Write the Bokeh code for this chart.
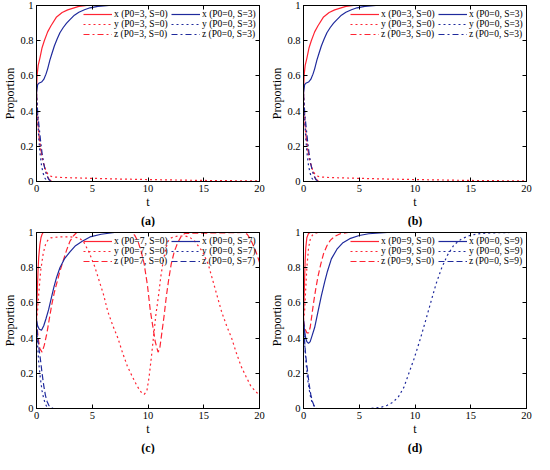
from bokeh.plotting import figure
from bokeh.layouts import gridplot
from bokeh.models import (Legend, LegendItem, LinearAxis, FixedTicker, Title, Range1d,
                          CustomJSTickFormatter)
from bokeh.embed import file_html
from bokeh.resources import INLINE

# ---------------- data ----------------
x_ticks = [0, 5, 10, 15, 20]
y_ticks = [0, 0.2, 0.4, 0.6, 0.8, 1]
y_tick_labels = ["0", "0.2", "0.4", "0.6", "0.8", "1"]

# panels (a) and (b): P0=3,S=0 (red) vs P0=0,S=3 (blue)
a_xr_t = [0, 0.05, 0.15, 0.3, 0.5, 0.7, 1.0, 1.3, 1.8, 2.3, 2.8, 3.3, 3.8, 4.5, 6, 20]
a_xr = [0.5, 0.6, 0.66, 0.7, 0.76, 0.8, 0.85, 0.885, 0.935, 0.96, 0.975, 0.985, 0.995, 1.0, 1.0, 1.0]
a_yr_t = [0, 0.1, 0.25, 0.4, 0.55, 0.7, 0.85, 1.0, 1.2, 1.5, 2.5, 5, 7.5, 10, 15, 20]
a_yr = [0.5, 0.38, 0.25, 0.17, 0.12, 0.085, 0.06, 0.045, 0.032, 0.026, 0.022, 0.018, 0.014, 0.011, 0.006, 0.003]
a_zr_t = [0, 0.1, 0.2, 0.35, 0.5, 0.65, 0.8, 0.95, 1.1, 1.3, 1.6, 20]
a_zr = [0.5, 0.36, 0.27, 0.2, 0.14, 0.1, 0.065, 0.035, 0.015, 0.005, 0, 0]
a_xb_t = [0, 0.1, 0.25, 0.45, 0.65, 0.85, 1.0, 1.2, 1.4, 1.6, 1.85, 2.1, 2.4, 2.7, 3.0, 3.4, 3.8, 4.3, 4.8, 5.5, 6.5, 20]
a_xb = [0.5, 0.55, 0.56, 0.565, 0.58, 0.61, 0.64, 0.69, 0.73, 0.77, 0.81, 0.845, 0.875, 0.9, 0.92, 0.945, 0.962, 0.976, 0.987, 0.995, 1.0, 1.0]
a_yb_t = [0, 0.1, 0.2, 0.3, 0.45, 0.6, 0.75, 0.9, 1.1, 20]
a_yb = [0.5, 0.36, 0.25, 0.17, 0.09, 0.045, 0.02, 0.006, 0, 0]
a_zb_t = [0, 0.1, 0.2, 0.35, 0.5, 0.65, 0.8, 0.95, 1.1, 1.3, 20]
a_zb = [0.5, 0.4, 0.33, 0.24, 0.16, 0.1, 0.06, 0.03, 0.012, 0, 0]

# panel (c): P0=7,S=0 (red) vs P0=0,S=7 (blue)
c_xr_t = [0, 0.05, 0.1, 0.15, 0.2, 0.3, 0.4, 0.5, 0.6, 20]
c_xr = [0.5, 0.62, 0.72, 0.8, 0.86, 0.93, 0.97, 0.99, 1.0, 1.0]
c_yr_t = [0, 0.1, 0.2, 0.37, 0.6, 0.8, 1.0, 1.3, 2, 3, 3.8, 4.2, 4.7, 5.2, 5.6, 6.0, 6.4, 6.85, 7.3,
          7.7, 8.15, 8.6, 9.0, 9.35, 9.66, 9.9, 10.1, 10.3, 10.5, 10.7, 10.94, 11.15, 11.37, 11.6,
          11.8, 12.1, 12.65, 13.3, 13.7, 14.2, 14.9, 15.4, 15.8, 16.2, 16.6, 17.05, 17.5, 17.9,
          18.35, 18.8, 19.2, 19.6, 20]
c_yr = [0.5, 0.56, 0.65, 0.78, 0.88, 0.93, 0.955, 0.97, 0.975, 0.975, 0.97, 0.95, 0.89, 0.81, 0.73,
        0.65, 0.55, 0.47, 0.4, 0.32, 0.24, 0.18, 0.13, 0.095, 0.08, 0.1, 0.18, 0.29, 0.41, 0.53,
        0.64, 0.75, 0.84, 0.91, 0.95, 0.97, 0.98, 0.98, 0.975, 0.95, 0.89, 0.82, 0.73, 0.64, 0.55,
        0.47, 0.4, 0.32, 0.24, 0.18, 0.13, 0.1, 0.075]
c_zr_t = [0, 0.15, 0.3, 0.5, 0.7, 0.94, 1.15, 1.37, 1.6, 1.85, 2.1, 2.4, 2.7, 3.0, 3.3, 3.6, 8.5,
          8.8, 9.1, 9.4, 9.66, 9.95, 10.2, 10.45, 10.65, 10.9, 11.05, 11.2, 11.45, 11.65, 11.85,
          12.08, 12.35, 12.65, 12.95, 13.3, 18.6, 18.9, 19.2, 19.5, 19.8, 20]
c_zr = [0.5, 0.4, 0.34, 0.32, 0.36, 0.43, 0.51, 0.59, 0.66, 0.72, 0.78, 0.84, 0.9, 0.95, 0.98, 1.0,
        1.0, 0.985, 0.95, 0.89, 0.82, 0.7, 0.56, 0.46, 0.38, 0.32, 0.34, 0.41, 0.53, 0.64, 0.73,
        0.82, 0.89, 0.94, 0.975, 0.995, 1.0, 0.99, 0.96, 0.92, 0.87, 0.83]
c_xb_t = [0, 0.1, 0.25, 0.45, 0.65, 0.85, 1.08, 1.3, 1.56, 1.8, 2.1, 2.5, 3.0, 3.5, 4.1, 4.8, 5.8, 7, 20]
c_xb = [0.5, 0.47, 0.45, 0.445, 0.47, 0.51, 0.56, 0.62, 0.69, 0.745, 0.8, 0.85, 0.89, 0.925, 0.95,
        0.975, 0.99, 1.0, 1.0]
c_yb_t = [0, 0.1, 0.2, 0.35, 0.5, 0.65, 0.8, 0.95, 1.1, 20]
c_yb = [0.5, 0.36, 0.26, 0.17, 0.1, 0.055, 0.025, 0.008, 0, 0]
c_zb_t = [0, 0.1, 0.2, 0.35, 0.5, 0.65, 0.8, 0.95, 1.1, 1.3, 1.5, 20]
c_zb = [0.5, 0.4, 0.35, 0.28, 0.2, 0.13, 0.075, 0.04, 0.018, 0.005, 0, 0]

# panel (d): P0=9,S=0 (red) vs P0=0,S=9 (blue)
d_xr_t = [0, 0.05, 0.1, 0.15, 0.2, 0.3, 0.45, 0.6, 20]
d_xr = [0.5, 0.62, 0.74, 0.84, 0.91, 0.97, 0.995, 1.0, 1.0]
d_yr_t = [0, 0.1, 0.2, 0.3, 0.45, 0.6, 0.8, 1.0, 1.3, 20]
d_yr = [0.5, 0.55, 0.68, 0.8, 0.91, 0.96, 0.985, 0.995, 1.0, 1.0]
d_zr_t = [0, 0.15, 0.3, 0.45, 0.6, 0.75, 0.9, 1.1, 1.3, 1.55, 1.8, 2.1, 2.4, 2.8, 3.3, 4.0, 20]
d_zr = [0.5, 0.45, 0.43, 0.43, 0.46, 0.53, 0.6, 0.68, 0.75, 0.82, 0.88, 0.925, 0.955, 0.978, 0.993, 1.0, 1.0]
d_xb_t = [0, 0.1, 0.2, 0.3, 0.45, 0.6, 0.8, 1.0, 1.3, 1.6, 1.9, 2.15, 2.5, 3.0, 3.5, 4.15, 5, 5.85, 7.5, 20]
d_xb = [0.5, 0.44, 0.4, 0.38, 0.37, 0.38, 0.42, 0.46, 0.55, 0.64, 0.72, 0.78, 0.85, 0.905, 0.94,
        0.965, 0.983, 0.993, 1.0, 1.0]
d_yb_t = [0, 0.1, 0.2, 0.35, 0.5, 0.65, 0.8, 1.0, 1.2, 6.0, 6.5, 7.0, 7.5, 8.0, 8.5, 9.0, 9.45,
          9.9, 10.5, 11.0, 11.4, 11.9, 12.4, 12.9, 13.5, 14.2, 15.0, 16.0, 17.0, 18.5, 20]
d_yb = [0.5, 0.37, 0.28, 0.18, 0.11, 0.06, 0.03, 0.01, 0, 0, 0.003, 0.008, 0.018, 0.035, 0.065,
        0.12, 0.2, 0.28, 0.4, 0.51, 0.6, 0.71, 0.8, 0.87, 0.93, 0.965, 0.985, 0.995, 0.998, 1.0, 1.0]
d_zb_t = [0, 0.1, 0.2, 0.35, 0.5, 0.65, 0.8, 0.95, 1.1, 20]
d_zb = [0.5, 0.38, 0.3, 0.22, 0.14, 0.08, 0.04, 0.015, 0, 0]

# ---------------- styling ----------------
RED = "#ff2433"
BLUE = "#1f2a9c"
FONT = "Liberation Serif"
W, H = 267, 227
FRAME_H = H - 5 - 40


def make_panel(tag, red, blue, red_pars, blue_pars, zdash):
    p = figure(width=W, height=H, x_range=Range1d(0, 20), y_range=Range1d(0, 1),
               output_backend="svg", toolbar_location=None,
               min_border_left=32, min_border_right=8, min_border_top=5, min_border_bottom=40)
    p.background_fill_color = "white"
    p.border_fill_color = "white"
    p.outline_line_color = "black"
    p.outline_line_width = 1
    p.grid.visible = False

    p.xaxis.ticker = FixedTicker(ticks=x_ticks)
    p.yaxis.ticker = FixedTicker(ticks=y_ticks)
    p.yaxis.major_label_overrides = {v: s for v, s in zip(y_ticks, y_tick_labels)}
    p.xaxis.axis_label = "t"
    p.yaxis.axis_label = "Proportion"
    for ax in (p.xaxis[0], p.yaxis[0]):
        ax.major_tick_in = 4
        ax.major_tick_out = 0
        ax.minor_tick_line_color = None
        ax.axis_line_color = "black"
        ax.major_tick_line_color = "black"
        ax.major_label_text_font = FONT
        ax.major_label_text_font_size = "10.5px"
        ax.major_label_text_color = "black"
        ax.major_label_standoff = 3
        ax.axis_label_text_font = FONT
        ax.axis_label_text_font_size = "12px"
        ax.axis_label_text_font_style = "normal"
        ax.axis_label_text_color = "black"
        ax.axis_label_standoff = 0

    blank = CustomJSTickFormatter(code="return ''")
    top = LinearAxis(ticker=FixedTicker(ticks=x_ticks), formatter=blank, major_tick_in=4,
                     major_tick_out=0, minor_tick_line_color=None, major_label_standoff=0)
    right = LinearAxis(ticker=FixedTicker(ticks=y_ticks), formatter=blank, major_tick_in=4,
                       major_tick_out=0, minor_tick_line_color=None, major_label_standoff=0)
    p.add_layout(top, "above")
    p.add_layout(right, "right")

    dashes = ["solid", "2 3", zdash]
    rr = []
    for (t, v), d in zip(red, dashes):
        rr.append(p.line(t, v, line_color=RED, line_width=1.2, line_dash=d))
    br = []
    for (t, v), d in zip(blue, dashes):
        br.append(p.line(t, v, line_color=BLUE, line_width=1.2, line_dash=d))

    names = ["x", "y", "z"]
    legend_y = FRAME_H - 10 - 30
    for renderers, pars, lx in ((rr, red_pars, 47), (br, blue_pars, 135)):
        items = [LegendItem(label=f"{n} ({pars})", renderers=[r]) for n, r in zip(names, renderers)]
        leg = Legend(items=items, location=(lx, legend_y), border_line_color=None,
                     background_fill_alpha=0, padding=0, spacing=0, margin=0,
                     glyph_width=29, glyph_height=10, label_height=10, label_standoff=2,
                     label_text_font=FONT, label_text_font_size="9.5px", label_text_color="black")
        p.add_layout(leg)

    p.add_layout(Title(text=tag, align="center", text_font=FONT, text_font_size="12px",
                       text_font_style="bold", text_color="black", standoff=0), "below")
    return p


pa = make_panel("(a)", [(a_xr_t, a_xr), (a_yr_t, a_yr), (a_zr_t, a_zr)],
                [(a_xb_t, a_xb), (a_yb_t, a_yb), (a_zb_t, a_zb)],
                "P0=3, S=0", "P0=0, S=3", "6 3 2 3")
pb = make_panel("(b)", [(a_xr_t, a_xr), (a_yr_t, a_yr), (a_zr_t, a_zr)],
                [(a_xb_t, a_xb), (a_yb_t, a_yb), (a_zb_t, a_zb)],
                "P0=3, S=0", "P0=0, S=3", "6 3 2 3")
pc = make_panel("(c)", [(c_xr_t, c_xr), (c_yr_t, c_yr), (c_zr_t, c_zr)],
                [(c_xb_t, c_xb), (c_yb_t, c_yb), (c_zb_t, c_zb)],
                "P0=7, S=0", "P0=0, S=7", "6 3")
pd = make_panel("(d)", [(d_xr_t, d_xr), (d_yr_t, d_yr), (d_zr_t, d_zr)],
                [(d_xb_t, d_xb), (d_yb_t, d_yb), (d_zb_t, d_zb)],
                "P0=9, S=0", "P0=0, S=9", "6 3")

grid = gridplot([[pa, pb], [pc, pd]], toolbar_location=None)

with open("out.html", "w") as f:
    f.write(file_html(grid, INLINE))
